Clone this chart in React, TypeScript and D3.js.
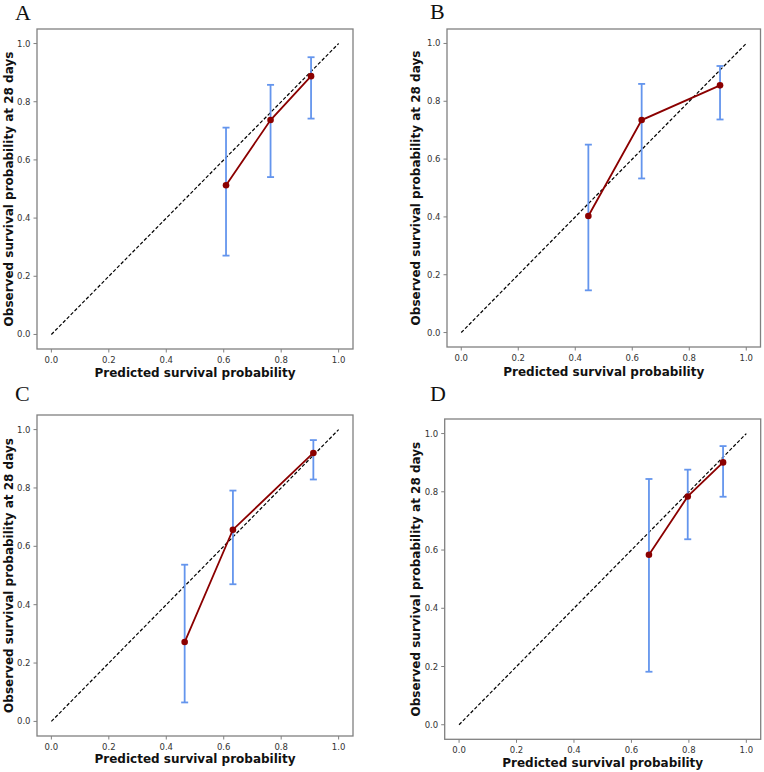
import * as d3 from 'd3';
import React from 'react';

// shared axis ticks
const tickValues = [0, 0.2, 0.4, 0.6, 0.8, 1.0];
const xTitle = 'Predicted survival probability';
const yTitle = 'Observed survival probability at 28 days';
const panelNames = ['A', 'B', 'C', 'D'];

// predicted (x), observed (y), 95% CI low / high per panel
const predA = [0.608, 0.763, 0.904];
const obsA = [0.513, 0.737, 0.888];
const lowA = [0.271, 0.541, 0.742];
const highA = [0.711, 0.858, 0.953];

const predB = [0.446, 0.633, 0.908];
const obsB = [0.403, 0.735, 0.855];
const lowB = [0.146, 0.533, 0.737];
const highB = [0.65, 0.86, 0.922];

const predC = [0.464, 0.632, 0.912];
const obsC = [0.272, 0.657, 0.92];
const lowC = [0.065, 0.47, 0.829];
const highC = [0.537, 0.791, 0.964];

const predD = [0.661, 0.796, 0.919];
const obsD = [0.584, 0.784, 0.901];
const lowD = [0.182, 0.637, 0.783];
const highD = [0.844, 0.876, 0.957];

const series = [
  { pred: predA, obs: obsA, low: lowA, high: highA },
  { pred: predB, obs: obsB, low: lowB, high: highB },
  { pred: predC, obs: obsC, low: lowC, high: highC },
  { pred: predD, obs: obsD, low: lowD, high: highD },
];

// where each panel sits on the page
const layout = [
  { left: 37, top: 29, right: 353, bottom: 349, letterX: 15, letterY: 19.5, yTitleX: 8.3, xTitleY: 376.5 },
  { left: 447, top: 29, right: 760.5, bottom: 347, letterX: 430, letterY: 18.5, yTitleX: 415.7, xTitleY: 375.5 },
  { left: 37, top: 415, right: 353, bottom: 736, letterX: 15, letterY: 401, yTitleX: 8.3, xTitleY: 762.5 },
  { left: 444.7, top: 419, right: 760.7, bottom: 739.3, letterX: 430, letterY: 401, yTitleX: 415.3, xTitleY: 767 },
];

const tickFont = 'DejaVu Sans, sans-serif';
const fmt = d3.format('.1f');

function Panel({ idx }: { idx: number }) {
  const g = layout[idx];
  const s = series[idx];
  const x = d3.scaleLinear().domain([-0.05, 1.05]).range([g.left, g.right]);
  const y = d3.scaleLinear().domain([-0.05, 1.05]).range([g.bottom, g.top]);

  const pts = s.pred.map((p, i) => [x(p), y(s.obs[i])] as [number, number]);
  const path = d3.line()(pts);
  const diag = d3.line()([
    [x(0), y(0)],
    [x(1), y(1)],
  ]);
  const cx = (g.left + g.right) / 2;
  const cy = (g.top + g.bottom) / 2;

  return (
    <g>
      <text x={g.letterX} y={g.letterY} fontFamily="Liberation Serif, Times New Roman, serif" fontSize={22} fill="#111">
        {panelNames[idx]}
      </text>
      <rect x={g.left} y={g.top} width={g.right - g.left} height={g.bottom - g.top} fill="none" stroke="#808080" strokeWidth={1.3} />
      {tickValues.map(t => (
        <g key={'x' + t}>
          <line x1={x(t)} x2={x(t)} y1={g.bottom} y2={g.bottom + 3.5} stroke="#808080" strokeWidth={1} />
          <text x={x(t)} y={g.bottom + 14} textAnchor="middle" fontFamily={tickFont} fontSize={8.5} fill="#333">
            {fmt(t)}
          </text>
        </g>
      ))}
      {tickValues.map(t => (
        <g key={'y' + t}>
          <line x1={g.left - 3.5} x2={g.left} y1={y(t)} y2={y(t)} stroke="#808080" strokeWidth={1} />
          <text x={g.left - 6.5} y={y(t) + 3} textAnchor="end" fontFamily={tickFont} fontSize={8.5} fill="#333">
            {fmt(t)}
          </text>
        </g>
      ))}
      <path d={diag ?? ''} stroke="#000" strokeWidth={1.2} strokeDasharray="3.5,2" fill="none" />
      {s.pred.map((p, i) => (
        <g key={'e' + i} stroke="#6495ED" strokeWidth={1.8}>
          <line x1={x(p)} x2={x(p)} y1={y(s.low[i])} y2={y(s.high[i])} />
          <line x1={x(p) - 3.5} x2={x(p) + 3.5} y1={y(s.low[i])} y2={y(s.low[i])} />
          <line x1={x(p) - 3.5} x2={x(p) + 3.5} y1={y(s.high[i])} y2={y(s.high[i])} />
        </g>
      ))}
      <path d={path ?? ''} stroke="#8B0000" strokeWidth={1.8} fill="none" />
      {pts.map((d, i) => (
        <circle key={'p' + i} cx={d[0]} cy={d[1]} r={3.3} fill="#8B0000" />
      ))}
      <text x={cx} y={g.xTitleY} textAnchor="middle" fontFamily={tickFont} fontWeight="bold" fontSize={12} fill="#111">
        {xTitle}
      </text>
      <text
        transform={`translate(${g.yTitleX + 4.3},${cy}) rotate(-90)`}
        textAnchor="middle"
        fontFamily={tickFont}
        fontWeight="bold"
        fontSize={12}
        fill="#111"
      >
        {yTitle}
      </text>
    </g>
  );
}

export default function App() {
  return (
    <svg width={764} height={772} style={{ position: 'absolute', left: 0, top: 0, background: '#fff' }}>
      {panelNames.map((_, i) => (
        <Panel key={i} idx={i} />
      ))}
    </svg>
  );
}
